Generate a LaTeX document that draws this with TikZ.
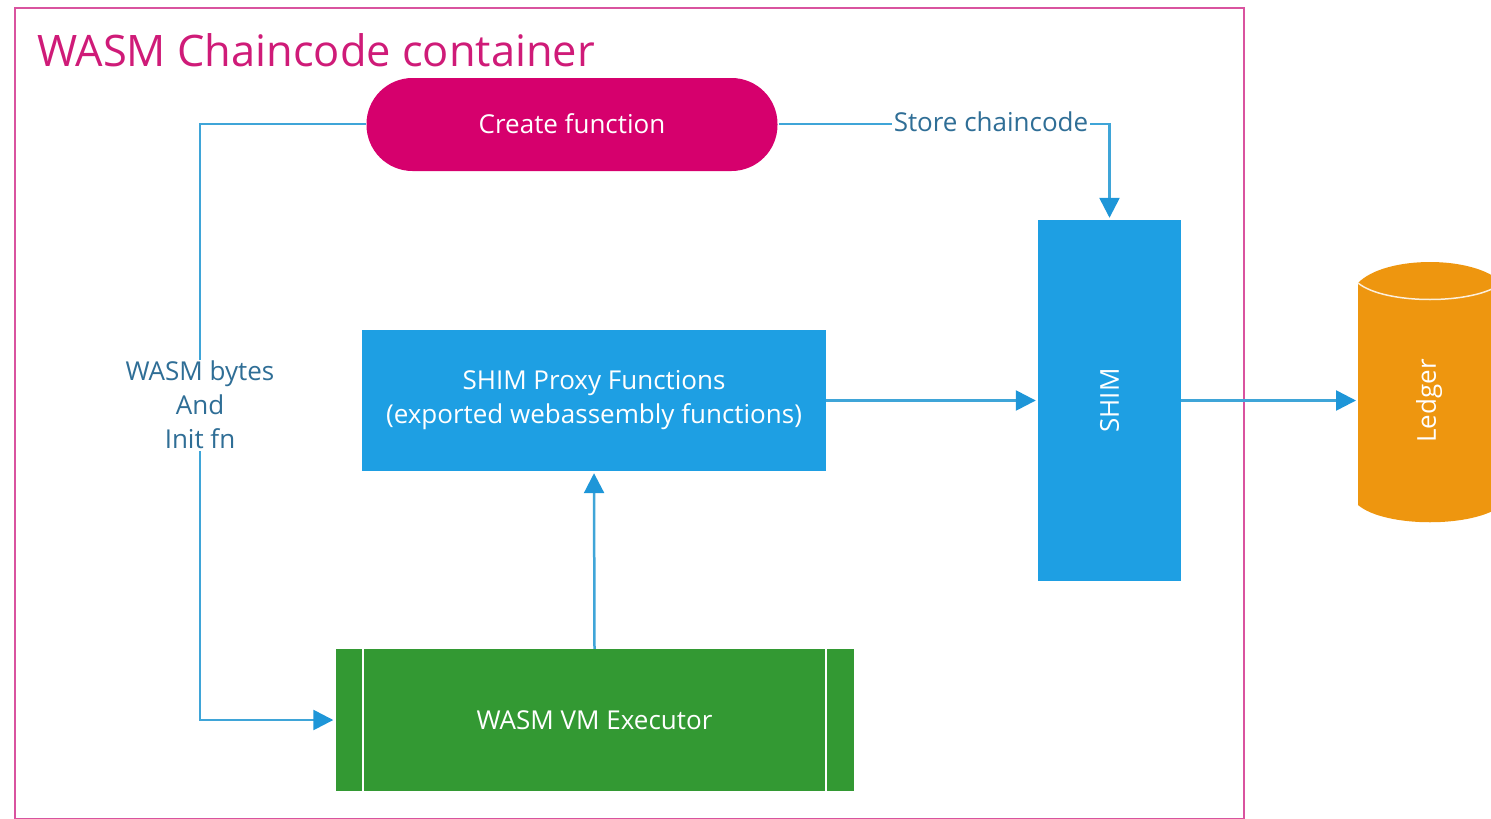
\documentclass[tikz,border=0pt]{standalone}
\usepackage{fontspec}
\setmainfont{Open Sans}
\usepackage{tikz}
\usetikzlibrary{positioning}
\usetikzlibrary{arrows.meta}
\usetikzlibrary{shapes.geometric}
\definecolor{framepink}{HTML}{D9539F}
\definecolor{titlepink}{HTML}{CF1B78}
\definecolor{createpink}{HTML}{D6006D}
\definecolor{shimblue}{HTML}{1E9FE3}
\definecolor{flowblue}{HTML}{3FA5D8}
\definecolor{tipblue}{HTML}{1E96D8}
\definecolor{labelblue}{HTML}{2F6E96}
\definecolor{vmgreen}{HTML}{339933}
\definecolor{ledgerorange}{HTML}{EE960F}
\tikzset{
  px/.style={x=1pt,y=-1pt},
  blockbox/.style={draw=none,text=white,inner sep=0pt,align=center,font=\fontsize{26}{34}\selectfont},
  flow/.style={draw=flowblue,line width=2.5pt,shorten >=2pt,-{Triangle[length=20pt,width=20pt,fill=tipblue,color=tipblue]}},
  flowlabel/.style={fill=white,text=labelblue,inner sep=1.5pt,align=center,font=\fontsize{26}{34}\selectfont},
}
\begin{document}
\begin{tikzpicture}[px]
    \useasboundingbox (0,0) rectangle (1491,819);
    % Container
    \draw[framepink,line width=2.5pt] (15,819) -- (15,8) -- (1244,8) -- (1244,819) -- cycle;
    \node[anchor=west,text=titlepink,inner sep=0pt,font=\fontsize{43.4}{46}\selectfont] (title) at (37,50) {WASM Chaincode container};
    % Define nodes
    \node[blockbox,fill=createpink,rounded corners=46pt,minimum width=411pt,minimum height=93pt] (create) at (572,124.5) {\raisebox{2pt}{Create function}};
    \node[blockbox,fill=shimblue,minimum width=464pt,minimum height=141pt] (proxy) at (594,400.5) {\raisebox{0pt}{SHIM Proxy Functions}\\(exported webassembly functions)};
    \node[blockbox,fill=shimblue,minimum width=143pt,minimum height=361pt] (shim) at (1109.5,400.5) {\rotatebox{90}{SHIM}};
    \node[blockbox,fill=vmgreen,minimum width=518pt,minimum height=142pt] (vm) at (594.5,720) {WASM VM Executor};
    \draw[white,line width=2pt] (363,649) -- (363,791) (826,649) -- (826,791);
    % Ledger drum
    \path[fill=ledgerorange] (1358,283) .. controls (1385,255) and (1475,255) .. (1502,283) -- (1502,505)
      .. controls (1475,528) and (1385,528) .. (1358,505) -- cycle;
    \draw[white!85!ledgerorange,line width=1.5pt] (1358,283) .. controls (1385,305) and (1475,305) .. (1502,283);
    \node[text=white,inner sep=0pt,rotate=90,font=\fontsize{26}{34}\selectfont] (ledger) at (1429,401) {Ledger};
    \coordinate (ledgerin) at (1358,400.5);
    % Connect the nodes
    \coordinate (createleft) at (366,124);
    \coordinate (createright) at (779,124);
    \coordinate (leftbend) at (200,124);
    \coordinate (vmbend) at (200,720);
    \coordinate (rightbend) at (1109.5,124);
    \draw[flow] (createleft) -- (leftbend) -- (vmbend) -- (vm.west);
    \draw[flow] (createright) -- (rightbend) -- (shim.north);
    \draw[flow] (vm.north) -- (proxy.south);
    \draw[flow] (proxy.east) -- (shim.west);
    \draw[flow] (shim.east) -- (ledgerin);
    % Labels on the lines
    \node[flowlabel] (bytes) at (200,405) {WASM bytes\\And\\Init fn};
    \node[flowlabel] (store) at (991,122) {Store chaincode};
\end{tikzpicture}
\end{document}
